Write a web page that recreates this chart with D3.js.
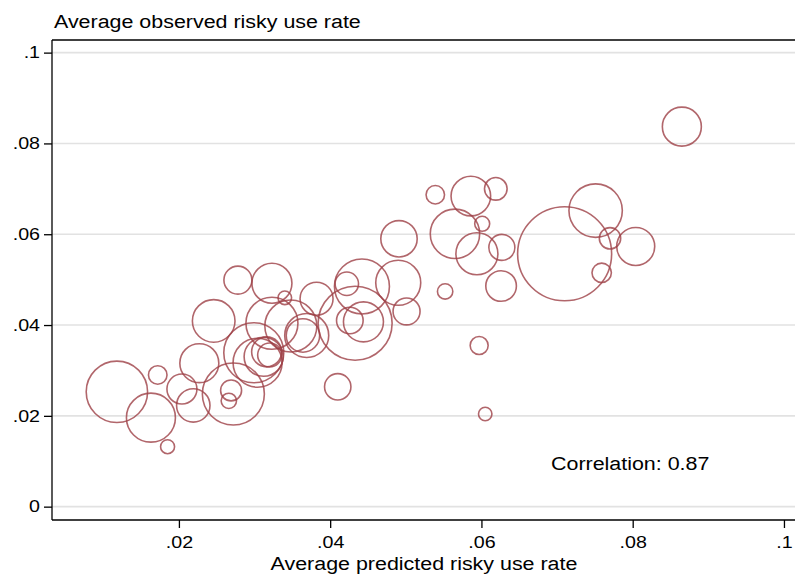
<!DOCTYPE html>
<html>
<head>
<meta charset="utf-8">
<script src="https://cdn.jsdelivr.net/npm/d3@7"></script>
<style>
  html, body { margin: 0; padding: 0; background: #fff; }
  svg { display: block; font-family: "Liberation Sans", Arial, sans-serif; }
</style>
</head>
<body>
<svg id="chart" width="795" height="577"></svg>
<script>
// Average predicted (x) vs observed (y) risky use rate, one bubble per unit,
// bubble area proportional to its weight.
const predicted = [0.0865, 0.0710, 0.0751, 0.0770, 0.0804, 0.0759, 0.0539, 0.0586, 0.0619, 0.0565,
                   0.0601, 0.0594, 0.0627, 0.0626, 0.0552, 0.0491, 0.0490, 0.0501, 0.0278, 0.0323,
                   0.0340, 0.0382, 0.0422, 0.0442, 0.0426, 0.0444, 0.0433, 0.0410, 0.0323, 0.0348,
                   0.0364, 0.0369, 0.0299, 0.0304, 0.0312, 0.0316, 0.0320, 0.0269, 0.0266, 0.0272,
                   0.0118, 0.0163, 0.0185, 0.0172, 0.0204, 0.0219, 0.0227, 0.0246, 0.0597, 0.0605];
const observed  = [0.0837, 0.0557, 0.0652, 0.0591, 0.0573, 0.0515, 0.0687, 0.0684, 0.0700, 0.0601,
                   0.0623, 0.0557, 0.0571, 0.0486, 0.0474, 0.0590, 0.0493, 0.0430, 0.0499, 0.0492,
                   0.0460, 0.0458, 0.0491, 0.0485, 0.0410, 0.0407, 0.0404, 0.0264, 0.0404, 0.0398,
                   0.0377, 0.0377, 0.0339, 0.0317, 0.0330, 0.0341, 0.0334, 0.0256, 0.0233, 0.0248,
                   0.0253, 0.0196, 0.0132, 0.0290, 0.0259, 0.0223, 0.0316, 0.0409, 0.0355, 0.0204];
const weight    = [3.80, 22.09, 7.13, 1.14, 3.61, 0.94, 0.85, 3.92, 1.28, 6.10,
                   0.56, 4.41, 1.69, 2.34, 0.59, 3.31, 5.06, 1.82, 1.96, 4.00,
                   0.46, 2.72, 1.37, 7.56, 1.77, 4.00, 13.69, 1.74, 6.76, 6.76,
                   2.79, 4.84, 9.00, 6.00, 3.80, 2.25, 1.44, 1.10, 0.59, 9.61,
                   9.42, 6.00, 0.49, 0.86, 2.25, 2.79, 3.80, 4.54, 0.81, 0.45];

const xTicks = [0.02, 0.04, 0.06, 0.08, 0.1];
const yTicks = [0, 0.02, 0.04, 0.06, 0.08, 0.1];
const correlationText = "Correlation: 0.87";
const xTitle = "Average predicted risky use rate";
const yTitle = "Average observed risky use rate";

const points = predicted.map((p, i) => ({ x: p, y: observed[i], w: weight[i] }));

const svg = d3.select("#chart");
const plot = { left: 52, right: 795, top: 40, bottom: 520 };

const x = d3.scaleLinear().domain([0.00322, 0.10146]).range([plot.left, plot.right]);
const y = d3.scaleLinear().domain([-0.00294, 0.10278]).range([plot.bottom, plot.top]);
const r = d3.scaleSqrt().domain([0, 1]).range([0, 10]);

const fmt = d => d === 0 ? "0" : d3.format(".2~f")(d).replace(/^0/, "");

// the lettering is set a little wider than the regular face
const widen = 1.19;
function stretch(sel, factor) {
  sel.each(function () {
    const w = this.getComputedTextLength();
    d3.select(this).attr("textLength", w * factor).attr("lengthAdjust", "spacingAndGlyphs");
  });
}

// horizontal grid lines
svg.append("g")
  .selectAll("line")
  .data(yTicks)
  .join("line")
  .attr("x1", plot.left).attr("x2", plot.right)
  .attr("y1", d => y(d)).attr("y2", d => y(d))
  .attr("stroke", "#e2e2e2")
  .attr("stroke-width", 1.6);

// hollow bubbles
svg.append("g")
  .selectAll("circle")
  .data(points)
  .join("circle")
  .attr("cx", d => x(d.x))
  .attr("cy", d => y(d.y))
  .attr("r", d => r(d.w))
  .attr("fill", "none")
  .attr("stroke", "#9e4046")
  .attr("stroke-opacity", 0.8)
  .attr("stroke-width", 1.6);

// frame top edge
svg.append("line")
  .attr("x1", plot.left).attr("x2", plot.right)
  .attr("y1", plot.top).attr("y2", plot.top)
  .attr("stroke", "#000").attr("stroke-width", 1.3);

// axes
const xAxis = d3.axisBottom(x).tickValues(xTicks).tickFormat(fmt).tickSize(8).tickPadding(8);
const yAxis = d3.axisLeft(y).tickValues(yTicks).tickFormat(fmt).tickSize(8).tickPadding(4);

const gx = svg.append("g").attr("transform", `translate(0,${plot.bottom})`).call(xAxis);
const gy = svg.append("g").attr("transform", `translate(${plot.left},0)`).call(yAxis);

[gx, gy].forEach(g => {
  g.select(".domain").attr("stroke", "#000").attr("stroke-width", 1.3);
  g.selectAll(".tick line").attr("stroke", "#000").attr("stroke-width", 1.3);
  g.selectAll(".tick text")
    .attr("fill", "#000")
    .style("font-family", "'Liberation Sans', Arial, sans-serif")
    .style("font-size", "16.5px")
    .call(stretch, widen);
});
gy.select(".domain").attr("d", `M0,${plot.bottom}V${plot.top}`);
gx.select(".domain").attr("d", `M${plot.left},0H${plot.right}`);

// titles
svg.append("text")
  .attr("x", 54).attr("y", 28)
  .style("font-size", "18px")
  .attr("fill", "#000")
  .text(yTitle)
  .call(stretch, widen);

svg.append("text")
  .attr("x", 424).attr("y", 570)
  .attr("text-anchor", "middle")
  .style("font-size", "18px")
  .attr("fill", "#000")
  .text(xTitle)
  .call(stretch, widen);

// correlation note
svg.append("text")
  .attr("x", 551).attr("y", 469.5)
  .style("font-size", "18px")
  .attr("fill", "#000")
  .text(correlationText)
  .call(stretch, widen);
</script>
</body>
</html>
